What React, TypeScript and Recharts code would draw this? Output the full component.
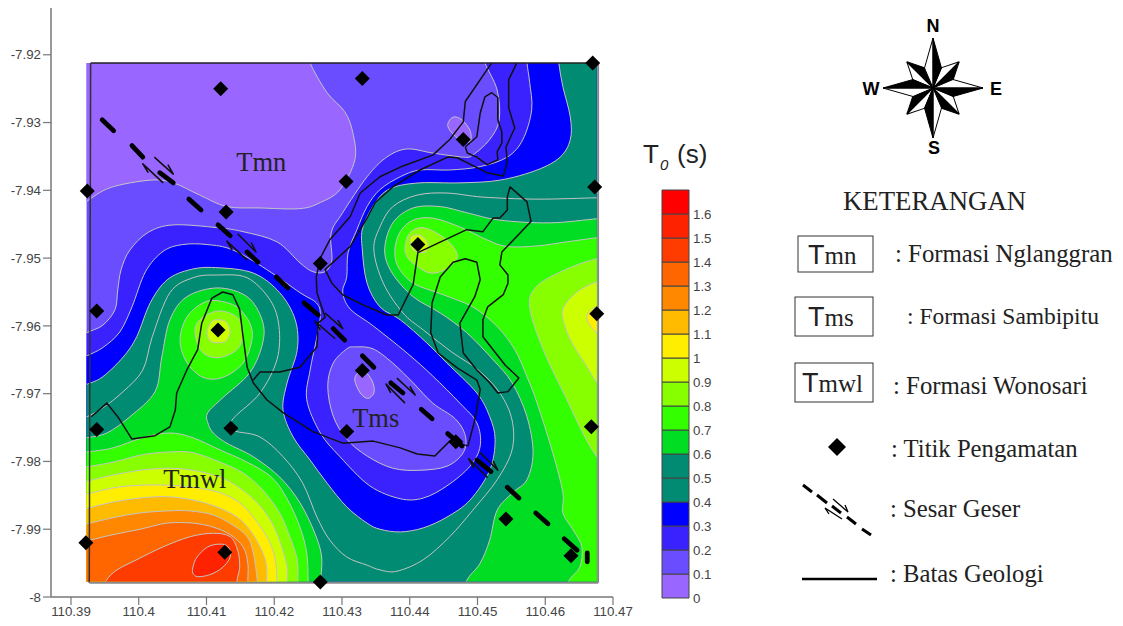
import React from "react";
import { ScatterChart, Scatter, XAxis, YAxis, BarChart, Bar } from "recharts";

// All map coordinates below: [lon, lat] offsets in units of 0.0001 degree from ORIGIN
const ORIGIN_LON = 110.39;
const ORIGIN_LAT = -7.92;
type Pair = [number, number];

const lonTicks = [110.39, 110.4, 110.41, 110.42, 110.43, 110.44, 110.45, 110.46, 110.47];
const latTicks = [-7.92, -7.93, -7.94, -7.95, -7.96, -7.97, -7.98, -7.99, -8];
const levels = [0, 0.1, 0.2, 0.3, 0.4, 0.5, 0.6, 0.7, 0.8, 0.9, 1, 1.1, 1.2, 1.3, 1.4, 1.5, 1.6];
const bandColors = ["#9966FF", "#6A4DFF", "#3A22FF", "#0000FF", "#008B72", "#008B72", "#00DD22", "#33FF00", "#88FF00", "#CCFF00", "#FFEE00", "#FFBB00", "#FF8800", "#FF6600", "#FF3C00", "#FF2200", "#FF0000"];

const mapBounds: Pair[] = [[23, 12], [776, 12], [776, 777], [23, 777]];

const low01: Pair[] = [[13,-7],[353,-7],[353,12],[378,56],[404,84],[416,115],[419,155],[397,199],[368,218],[338,227],[279,226],[230,224],[190,207],[151,189],[117,185],[58,196],[22,217],[13,223]];
const level02: Pair[] = [[13,421],[24,410],[47,399],[65,376],[69,347],[74,317],[87,288],[114,262],[151,251],[215,255],[254,261],[304,276],[338,307],[357,320],[375,320],[385,303],[384,263],[401,233],[437,180],[466,151],[496,139],[534,145],[579,151],[593,148],[618,125],[632,96],[629,52],[611,12],[608,-7],[796,-7],[796,800],[13,800]];
const level03: Pair[] = [[13,450],[24,444],[47,432],[72,409],[90,372],[110,320],[136,290],[165,280],[201,280],[239,288],[289,317],[338,351],[362,366],[368,384],[362,421],[353,465],[348,509],[368,558],[397,593],[441,636],[486,655],[520,654],[555,636],[589,607],[604,577],[599,543],[574,514],[534,474],[496,440],[446,400],[412,375],[401,350],[407,328],[409,292],[422,258],[437,224],[456,199],[486,180],[515,170],[559,170],[604,165],[644,151],[667,125],[680,81],[677,41],[673,12],[672,-7],[796,-7],[796,800],[13,800]];
const level04: Pair[] = [[13,490],[24,486],[47,475],[77,446],[97,416],[117,366],[142,332],[176,317],[213,314],[269,322],[308,351],[331,391],[334,435],[319,484],[313,524],[328,564],[353,598],[378,632],[407,667],[437,691],[456,700],[486,704],[520,698],[555,682],[589,657],[618,613],[626,568],[618,534],[599,499],[555,455],[525,425],[486,391],[456,372],[437,337],[430,288],[431,254],[452,214],[475,196],[515,189],[574,189],[633,185],[688,170],[722,151],[737,125],[737,92],[726,47],[720,12],[719,-7],[796,-7],[796,800],[13,800]];
const level05: Pair[] = [[13,539],[24,534],[47,521],[77,497],[106,465],[120,416],[146,351],[180,329],[215,325],[260,329],[294,362],[307,401],[304,450],[279,499],[242,534],[232,551],[245,556],[279,564],[313,593],[342,632],[363,682],[382,716],[407,741],[437,753],[456,760],[481,762],[520,745],[559,711],[593,672],[629,627],[651,583],[651,539],[633,499],[601,465],[564,440],[520,406],[490,381],[461,337],[447,288],[456,254],[475,224],[511,207],[555,204],[608,210],[688,213],[776,211],[796,211],[796,800],[13,800]];
const level06West: Pair[] = [[13,568],[24,565],[53,558],[87,534],[124,497],[134,446],[146,391],[171,357],[217,344],[260,357],[282,391],[283,425],[264,469],[224,506],[202,528],[202,543],[210,558],[230,573],[269,593],[308,623],[338,661],[360,706],[370,741],[368,778],[365,800],[13,800]];
const level06East: Pair[] = [[584,800],[584,776],[604,750],[618,716],[629,672],[652,646],[673,627],[682,587],[673,534],[651,484],[623,450],[584,410],[545,381],[505,357],[474,322],[463,288],[475,248],[505,226],[545,224],[584,233],[633,244],[707,248],[776,242],[796,242],[796,800]];
const level07West: Pair[] = [[13,587],[24,586],[62,580],[106,565],[146,558],[180,565],[220,583],[260,601],[297,624],[320,657],[338,697],[348,735],[350,776],[350,800],[13,800]];
const level07Lobe: Pair[] = [[161,421],[171,387],[195,366],[217,363],[245,372],[264,396],[267,421],[254,455],[224,476],[195,476],[171,454]];
const level07East: Pair[] = [[735,800],[735,776],[751,756],[754,726],[741,701],[726,676],[726,646],[711,587],[688,514],[673,475],[655,435],[629,401],[593,372],[549,354],[505,337],[483,313],[478,288],[486,261],[505,244],[534,241],[574,254],[614,273],[644,283],[688,282],[732,276],[776,270],[796,269],[796,800]];
const level08West: Pair[] = [[13,610],[24,608],[62,601],[106,590],[146,586],[180,587],[220,601],[254,617],[283,642],[308,676],[323,711],[334,745],[335,776],[335,800],[13,800]];
const level08Lobe: Pair[] = [[183,410],[190,391],[217,378],[245,387],[254,410],[245,435],[217,447],[193,438]];
const level08North: Pair[] = [[493,283],[500,263],[519,255],[545,266],[564,283],[570,300],[552,317],[530,322],[508,310],[496,298]];
const level08East: Pair[] = [[796,301],[776,301],[732,316],[688,341],[677,372],[697,435],[732,509],[756,559],[776,593],[796,613]];
const level09West: Pair[] = [[13,630],[24,629],[62,620],[102,613],[142,610],[180,613],[220,623],[249,639],[275,661],[297,691],[311,726],[319,756],[319,776],[319,800],[13,800]];
const level09Lobe: Pair[] = [[201,409],[207,394],[217,391],[229,394],[235,409],[229,422],[217,425],[205,422]];
const level09North: Pair[] = [[501,270],[515,266],[527,278],[523,291],[505,288]];
const level09East: Pair[] = [[796,332],[776,335],[747,350],[726,375],[729,400],[741,428],[759,456],[776,483],[796,502]];
const level10West: Pair[] = [[13,649],[24,648],[62,639],[102,635],[142,635],[180,638],[220,646],[249,661],[269,682],[289,711],[301,741],[304,776],[304,800],[13,800]];
const level10East: Pair[] = [[796,369],[776,372],[763,381],[763,394],[776,410],[796,413]];
const level11: Pair[] = [[13,670],[24,669],[62,660],[102,654],[142,652],[180,657],[215,667],[245,682],[264,701],[279,726],[288,750],[289,776],[289,800],[13,800]];
const level12: Pair[] = [[13,694],[24,692],[62,683],[102,676],[142,673],[176,673],[210,679],[239,694],[260,711],[269,735],[275,776],[275,800],[13,800]];
const level13: Pair[] = [[13,719],[24,717],[62,708],[102,700],[142,691],[180,691],[210,697],[235,708],[254,726],[261,750],[261,776],[261,800],[13,800]];
const level14: Pair[] = [[43,800],[52,776],[68,760],[97,745],[136,726],[176,711],[210,706],[235,711],[246,731],[249,756],[245,776],[245,800]];
const level15: Pair[] = [[180,756],[186,741],[202,726],[220,722],[232,726],[235,741],[223,757],[205,767],[187,770],[180,765]];
const pocketTms02: Pair[] = [[407,434],[387,455],[379,489],[387,533],[407,567],[437,592],[475,610],[515,613],[555,607],[579,587],[582,562],[567,537],[534,514],[505,484],[475,455],[446,434],[419,431]];
const pocketTms01: Pair[] = [[422,471],[419,481],[427,499],[438,507],[447,499],[446,485],[438,471],[431,468]];
const pocketNorth01: Pair[] = [[556,103],[564,92],[577,96],[589,112],[589,128],[574,125],[562,115]];

const contourLayers: { pts: Pair[]; band: number }[] = [
  { pts: low01, band: 0 },
  { pts: level02, band: 2 },
  { pts: level03, band: 3 },
  { pts: level04, band: 4 },
  { pts: pocketTms02, band: 1 },
  { pts: pocketTms01, band: 0 },
  { pts: pocketNorth01, band: 0 },
  { pts: level05, band: 5 },
  { pts: level06West, band: 6 },
  { pts: level06East, band: 6 },
  { pts: level07West, band: 7 },
  { pts: level07Lobe, band: 7 },
  { pts: level07East, band: 7 },
  { pts: level08West, band: 8 },
  { pts: level08Lobe, band: 8 },
  { pts: level08North, band: 8 },
  { pts: level08East, band: 8 },
  { pts: level09West, band: 9 },
  { pts: level09Lobe, band: 9 },
  { pts: level09North, band: 9 },
  { pts: level09East, band: 9 },
  { pts: level10West, band: 10 },
  { pts: level10East, band: 10 },
  { pts: level11, band: 11 },
  { pts: level12, band: 12 },
  { pts: level13, band: 13 },
  { pts: level14, band: 14 },
  { pts: level15, band: 15 },
];

const geologyMain: Pair[] = [[30,534],[53,514],[69,534],[90,567],[124,562],[146,549],[154,524],[156,499],[171,465],[187,435],[193,396],[208,359],[224,350],[239,354],[249,376],[254,416],[260,461],[269,484],[289,509],[313,528],[357,556],[401,573],[446,570],[486,580],[511,589],[537,592],[549,580],[559,570],[586,577],[596,539],[604,494],[599,480],[570,462],[542,440],[531,410],[533,366],[545,328],[564,306],[582,301],[599,306],[604,332],[596,357],[574,396],[579,440],[599,465],[618,484],[630,499],[645,497],[661,477],[641,458],[608,416],[608,391],[615,372],[638,354],[645,337],[645,325],[633,310],[636,291],[679,246],[673,217],[648,195],[644,210],[644,229],[633,241],[623,241],[608,261],[584,258],[512,292],[505,339],[483,384],[466,384],[431,369],[401,354],[385,337],[375,317],[412,283],[438,239],[449,218],[475,195],[515,170],[556,151],[570,152],[614,174],[638,179],[644,159],[642,136],[655,108],[646,78],[646,37],[658,12]];
const geologyBranch: Pair[] = [[621,12],[582,69],[579,99],[559,125],[534,148],[490,164],[456,180],[427,204],[412,239],[382,273],[368,300],[362,328],[363,351],[375,387],[365,396],[363,431],[338,461],[308,468],[279,468],[269,480]];
const geologyLoop: Pair[] = [[582,136],[599,121],[604,86],[611,62],[621,56],[630,63],[630,96],[636,114],[636,130],[629,143],[630,155],[614,162],[599,151],[585,145],[582,136]];
const geologyLines = [geologyMain, geologyBranch, geologyLoop];

const faultDashes: Pair[][] = [
  [[46,96],[63,112]],[[90,134],[106,151]],[[131,174],[151,189]],[[174,213],[192,229]],[[217,251],[235,267]],[[260,291],[276,306]],[[303,328],[320,344]],[[344,366],[365,384]],[[387,404],[404,421]],[[430,444],[447,461]],[[472,484],[490,499]],[[517,523],[533,537]],[[556,559],[577,577]],[[599,598],[620,615]],[[644,638],[661,654]],[[686,676],[704,692]],[[728,714],[747,731]],[[762,735],[762,748]],
];
const faultArrows: Pair[][] = [
  [[123,151],[151,176],[143,162]],[[136,189],[106,161],[114,174]],
  [[246,264],[273,291],[266,277]],[[260,303],[230,275],[238,288]],
  [[375,381],[401,404],[394,391]],[[390,419],[360,393],[368,406]],
  [[481,477],[508,502],[500,489]],[[493,514],[465,486],[472,499]],
  [[604,587],[630,613],[623,599]],[[615,624],[587,596],[595,610]],
];
const observationPoints: Pair[] = [[221,50],[430,35],[770,12],[579,125],[406,187],[24,201],[773,195],[229,232],[512,280],[368,308],[38,378],[776,382],[217,406],[430,466],[38,553],[236,551],[768,549],[407,556],[568,571],[642,685],[22,720],[227,734],[738,739],[368,778]];

const mapLabels: { name: string; at: Pair }[] = [
  { name: "Tmn", at: [244, 171] },
  { name: "Tms", at: [415, 549] },
  { name: "Tmwl", at: [136, 639] },
];
const frameTop: Pair[] = [[29, 12], [770, 12]];
const frameLeft: Pair[] = [[29, 12], [27, 779]];
const frameBottom: Pair[] = [[27, 779], [778, 779]];
const frameRight: Pair[] = [[778, 12], [778, 779]];

const legendTitle = "KETERANGAN";
const formationRows = [
  { code: "Tmn", rest: "mn", text: ": Formasi Nglanggran", box: [798, 236, 75, 36], textX: 808, base: 264, descX: 895, descBase: 262, size: 24.8 },
  { code: "Tms", rest: "ms", text: ": Formasi Sambipitu", box: [795, 297, 78, 39], textX: 808, base: 326, descX: 907, descBase: 324, size: 23.5 },
  { code: "Tmwl", rest: "mwl", text: ": Formasi Wonosari", box: [795, 363, 78, 39], textX: 802, base: 392, descX: 893, descBase: 394, size: 24.8 },
];
const symbolRows = [
  { text: ": Titik Pengamatan", x: 891, base: 457 },
  { text: ": Sesar Geser", x: 890, base: 517 },
  { text: ": Batas Geologi", x: 890, base: 582 },
];

const SERIF = "'Liberation Serif', serif";
const SANS = "'Liberation Sans', Arial, sans-serif";

const toPts = (arr: Pair[]) => arr.map(([a, b]) => ({ x: ORIGIN_LON + a * 1e-4, y: ORIGIN_LAT - b * 1e-4 }));

function smoothClosed(pts: { x: number; y: number }[]) {
  const n = pts.length;
  let d = `M${pts[0].x},${pts[0].y}`;
  for (let i = 0; i < n; i++) {
    const p0 = pts[(i - 1 + n) % n], p1 = pts[i], p2 = pts[(i + 1) % n], p3 = pts[(i + 2) % n];
    d += `C${p1.x + (p2.x - p0.x) / 6},${p1.y + (p2.y - p0.y) / 6} ${p2.x - (p3.x - p1.x) / 6},${p2.y - (p3.y - p1.y) / 6} ${p2.x},${p2.y}`;
  }
  return d + "Z";
}
const straight = (pts: { x: number; y: number }[]) => pts.map((p, i) => `${i ? "L" : "M"}${p.x},${p.y}`).join("");
const noShape = () => <g />;

const OpenLine = (arr: Pair[], stroke: string, width: number, key: string, cap: "round" | "butt" = "butt") => (
  <Scatter
    key={key}
    data={toPts(arr)}
    isAnimationActive={false}
    shape={noShape}
    line={(p: any) => <path d={straight(p.points)} fill="none" stroke={stroke} strokeWidth={width} strokeLinecap={cap} strokeLinejoin="round" />}
  />
);

function Compass() {
  const cx = 933, cy = 88;
  const out: React.ReactNode[] = [];
  for (const [start, len, w, base] of [[45, 37, 8.5, 20], [0, 50, 8.5, 20]]) {
    for (let k = 0; k < 4; k++) {
      const ang = start + k * 90;
      out.push(
        <g key={`${start}-${k}`} transform={`translate(${cx} ${cy}) rotate(${ang})`}>
          <polygon points={`0,0 0,${-len} ${-w},${-base}`} fill="#fff" stroke="#000" strokeWidth={1} />
          <polygon points={`0,0 0,${-len} ${w},${-base}`} fill="#000" stroke="#000" strokeWidth={1} />
        </g>
      );
    }
  }
  return (
    <g>
      {out}
      <g fontFamily={SANS} fontWeight={700} fontSize={18} textAnchor="middle" fill="#000">
        <text x={933} y={32}>N</text>
        <text x={871} y={95}>W</text>
        <text x={996} y={95}>E</text>
        <text x={934} y={154}>S</text>
      </g>
    </g>
  );
}

function Overlay() {
  return (
    <svg width={1123} height={626} style={{ position: "absolute", left: 0, top: 0, pointerEvents: "none" }}>
      <g fill="#222" fontFamily={SANS}>
        <text x={643} y={163} fontSize={26}>T</text>
        <text x={660} y={170} fontSize={15} fontStyle="italic">0</text>
        <text x={677} y={163} fontSize={26}>(s)</text>
      </g>
      <Compass />
      <text x={843} y={210} fontFamily={SERIF} fontSize={26.8} fill="#222">{legendTitle}</text>
      {formationRows.map((r) => (
        <g key={r.code} fill="#222">
          <rect x={r.box[0]} y={r.box[1]} width={r.box[2]} height={r.box[3]} fill="#fff" stroke="#333" strokeWidth={1} />
          <text x={r.textX} y={r.base} fontSize={25}>
            <tspan fontFamily={SANS} fontSize={27}>T</tspan>
            <tspan fontFamily={SERIF}>{r.rest}</tspan>
          </text>
          <text x={r.descX} y={r.descBase} fontFamily={SERIF} fontSize={r.size}>{r.text}</text>
        </g>
      ))}
      {symbolRows.map((r) => (
        <text key={r.text} x={r.x} y={r.base} fontFamily={SERIF} fontSize={24.7} fill="#222">{r.text}</text>
      ))}
      <polygon points="837,438 846,447 837,456 828,447" fill="#000" />
      <g stroke="#000" strokeWidth={3} fill="none">
        <path d="M803 485L812 492M817 495L827 503M832 506L841 513M847 517L856 524M862 529L871 535" />
      </g>
      <g stroke="#000" strokeWidth={1.3} fill="none">
        <path d="M833 499L848 512L845 505" />
        <path d="M842 519L825 508L829 514" />
      </g>
      <line x1={802} y1={579} x2={877} y2={579} stroke="#000" strokeWidth={2.5} />
    </svg>
  );
}

function ColorBar() {
  const row: Record<string, number | string> = { name: "T0" };
  levels.forEach((l, i) => (row[`b${i}`] = 0.1));
  return (
    <div style={{ position: "absolute", left: 640, top: 180 }}>
      <BarChart width={80} height={430} data={[row]} margin={{ top: 10, right: 0, bottom: 12, left: 22 }} barCategoryGap={0}>
        <XAxis dataKey="name" hide />
        <YAxis
          orientation="right"
          type="number"
          domain={[0, 1.7]}
          ticks={levels}
          interval={0}
          width={31}
          axisLine={false}
          tickLine={false}
          tickSize={0}
          tickMargin={4}
          tick={{ fontSize: 13.3, fill: "#444", fontFamily: SANS }}
        />
        {levels.map((l, i) => (
          <Bar key={i} dataKey={`b${i}`} stackId="t" fill={bandColors[i]} stroke="#444" strokeWidth={1} isAnimationActive={false} />
        ))}
      </BarChart>
    </div>
  );
}

export default function App() {
  const axisTick = { fontSize: 13.3, fill: "#444", fontFamily: SANS };
  const axisLine = { stroke: "#777", strokeWidth: 1.5 };
  const tickLine = { stroke: "#777", strokeWidth: 1.2 };
  return (
    <div style={{ position: "absolute", left: 0, top: 0, width: 1123, height: 626, background: "#fff", overflow: "hidden" }}>
      <ScatterChart width={1123} height={626} margin={{ top: 8, right: 510, bottom: 0, left: 0 }}>
        <XAxis type="number" dataKey="x" domain={[110.38705, 110.47]} ticks={lonTicks} interval={0} height={29} tick={axisTick} axisLine={axisLine} tickLine={tickLine} tickSize={8} tickMargin={2} allowDataOverflow />
        <YAxis type="number" dataKey="y" domain={[-8, -7.9131]} ticks={latTicks} interval={0} width={51} tick={axisTick} axisLine={axisLine} tickLine={tickLine} tickSize={8} tickMargin={2} allowDataOverflow />
        <Scatter
          data={toPts(mapBounds)}
          isAnimationActive={false}
          shape={noShape}
          line={(p: any) => (
            <g>
              <clipPath id="mapClip"><path d={straight(p.points) + "Z"} /></clipPath>
              <path d={straight(p.points) + "Z"} fill={bandColors[1]} />
            </g>
          )}
        />
        {contourLayers.map((c, i) => (
          <Scatter
            key={i}
            data={toPts(c.pts)}
            isAnimationActive={false}
            shape={noShape}
            line={(p: any) => (
              <path d={smoothClosed(p.points)} clipPath="url(#mapClip)" fill={bandColors[c.band]} stroke="#C4C4C4" strokeWidth={1} />
            )}
          />
        ))}
        {geologyLines.map((g, i) => OpenLine(g, "#111", 1.5, `geo${i}`))}
        {OpenLine(frameTop, "#222", 1.5, "ft")}
        {OpenLine(frameLeft, "#333", 1.5, "fl")}
        {OpenLine(frameBottom, "#888", 2, "fb")}
        {OpenLine(frameRight, "#888", 2, "fr")}
        {faultDashes.map((d, i) => OpenLine(d, "#000", 4.8, `dash${i}`, "round"))}
        {faultArrows.map((d, i) => OpenLine(d, "#111", 1.6, `arrow${i}`))}
        <Scatter
          data={toPts(observationPoints)}
          isAnimationActive={false}
          shape={(p: any) => <polygon points={`${p.cx},${p.cy - 7.5} ${p.cx + 7.5},${p.cy} ${p.cx},${p.cy + 7.5} ${p.cx - 7.5},${p.cy}`} fill="#000" />}
        />
        {mapLabels.map((m) => (
          <Scatter
            key={m.name}
            data={toPts([m.at])}
            isAnimationActive={false}
            shape={(p: any) => <text x={p.cx} y={p.cy} fontFamily={SERIF} fontSize={26.5} fill="#222">{m.name}</text>}
          />
        ))}
      </ScatterChart>
      <ColorBar />
      <Overlay />
    </div>
  );
}
